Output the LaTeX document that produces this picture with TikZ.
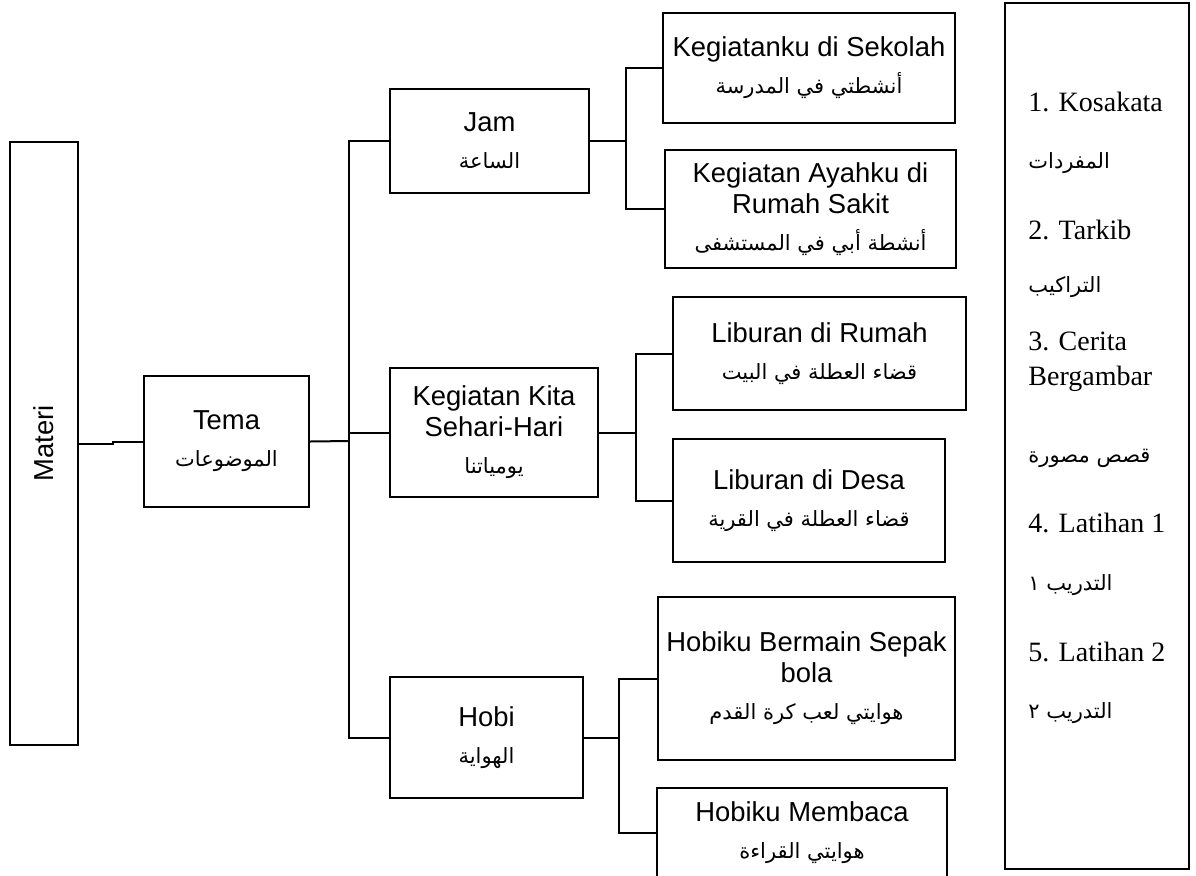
\documentclass[tikz,border=0pt]{standalone}
\usepackage{fontspec}
\setmainfont{Liberation Sans}
\newfontfamily\serifku{Liberation Serif}
\newfontfamily\arabku[Script=Arabic]{DejaVu Sans}
\TeXXeTstate=1
\usetikzlibrary{calc,positioning}
\newcommand{\arb}[1]{{\arabku\fontsize{10.5}{13}\selectfont\beginR #1\endR}}
\newcommand{\arbkecil}[1]{{\arabku\fontsize{10.5}{13}\selectfont\beginR #1\endR}}

\begin{document}
\begin{tikzpicture}[x=0.5pt,y=-0.5pt]
\tikzstyle{kotak} = [draw, line width=1pt, align=center, inner sep=0pt, font=\fontsize{13.7}{15.5}\selectfont]
\tikzstyle{daftar} = [anchor=west, inner sep=0pt, align=left, font=\serifku\fontsize{14}{17.5}\selectfont]
\tikzstyle{garis} = [line width=1pt]
    \useasboundingbox (0,0) rectangle (1196,875);
    \clip (0,0) rectangle (1196,875);

    % kolom kiri
    \node[kotak, minimum width=34pt, minimum height=301.5pt] (Materi) at (44,443.5) {\rotatebox{90}{Materi}};
    \node[kotak, minimum width=82.5pt, minimum height=65.5pt] (Tema) at (226.5,441.5) {Tema\\[3pt] \arb{الموضوعات}};

    % tema
    \node[kotak, minimum width=99.5pt, minimum height=52pt] (Jam) at (489.5,141) {Jam\\[3pt] \arb{الساعة}};
    \node[kotak, minimum width=104pt, minimum height=64.5pt] (Kita) at (494,432.5) {Kegiatan Kita\\Sehari-Hari\\[3pt] \arb{يومياتنا}};
    \node[kotak, minimum width=96.5pt, minimum height=60.5pt] (Hobi) at (486.5,737.5) {Hobi\\[3pt] \arb{الهواية}};

    % sub tema
    \node[kotak, minimum width=146pt, minimum height=55pt] (Sekolah) at (809,68) {Kegiatanku di Sekolah\\[3pt] \arb{أنشطتي في المدرسة}};
    \node[kotak, minimum width=145.5pt, minimum height=59pt] (Ayah) at (810.5,209) {Kegiatan Ayahku di\\Rumah Sakit\\[3pt] \arb{أنشطة أبي في المستشفى}};
    \node[kotak, minimum width=146.5pt, minimum height=56.5pt] (Rumah) at (819.5,353.5) {Liburan di Rumah\\[3pt] \arb{قضاء العطلة في البيت}};
    \node[kotak, minimum width=136pt, minimum height=61.5pt] (Desa) at (809,500.5) {Liburan di Desa\\[3pt] \arb{قضاء العطلة في القرية}};
    \node[kotak, minimum width=148.5pt, minimum height=81.5pt] (Sepak) at (806.5,678.5) {Hobiku Bermain Sepak\\bola\\[3pt] \arb{هوايتي لعب كرة القدم}};
    \node[kotak, minimum width=145pt, minimum height=45pt] (Baca) at (802,833) {Hobiku Membaca\\[3pt] \arb{هوايتي القراءة}};

    % daftar materi
    \node[draw, line width=1pt, minimum width=92pt, minimum height=433pt] (Daftar) at (1097,436) {};
    \node[daftar] (k1) at (1028,102) {1. Kosakata};
    \node[daftar] (a1) at (1028,163) {\arbkecil{المفردات}};
    \node[daftar] (k2) at (1028,230) {2. Tarkib};
    \node[daftar] (a2) at (1028,287) {\arbkecil{التراكيب}};
    \node[daftar] (k3) at (1028,362) {3. Cerita\\Bergambar};
    \node[daftar] (a3) at (1028,458) {\arbkecil{قصص مصورة}};
    \node[daftar] (k4) at (1028,523) {4. Latihan 1};
    \node[daftar] (a4) at (1028,585) {\arbkecil{التدريب ١}};
    \node[daftar] (k5) at (1028,652) {5. Latihan 2};
    \node[daftar] (a5) at (1028,713) {\arbkecil{التدريب ٢}};

    % titik cabang
    \coordinate (bagi) at (349,441);
    \coordinate (cabJam) at (626,141);
    \coordinate (cabKita) at (636,432.5);
    \coordinate (cabHobi) at (619,737.5);

    \draw[garis] (Materi.east) -- ++(34,0) |- (Tema.west);
    \draw[garis] (Tema.east) -- (bagi);
    \draw[garis] (Jam.west) -| (bagi);
    \draw[garis] (Kita.west) -| (bagi);
    \draw[garis] (Hobi.west) -| (bagi);
    \draw[garis] (Jam.east) -- (cabJam);
    \draw[garis] (Sekolah.west) -| (cabJam);
    \draw[garis] (Ayah.west) -| (cabJam);
    \draw[garis] (Kita.east) -- (cabKita);
    \draw[garis] (Rumah.west) -| (cabKita);
    \draw[garis] (Desa.west) -| (cabKita);
    \draw[garis] (Hobi.east) -- (cabHobi);
    \draw[garis] (Sepak.west) -| (cabHobi);
    \draw[garis] (Baca.west) -| (cabHobi);
\end{tikzpicture}
\end{document}
